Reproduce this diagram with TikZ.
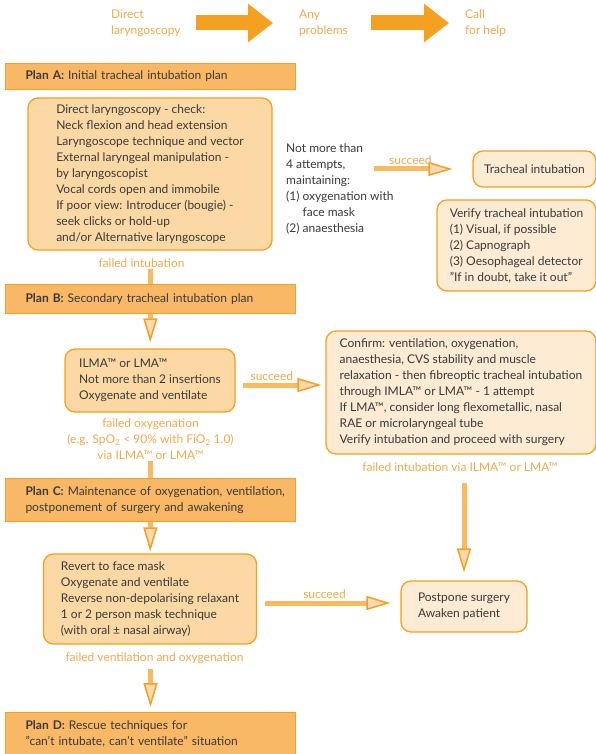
\documentclass[tikz,border=0pt]{standalone}
\usepackage{fontspec}
\setmainfont{Lato}
\usetikzlibrary{arrows.meta,positioning,calc}
\definecolor{orA}{HTML}{F4A020}
\definecolor{orBar}{HTML}{F9B865}
\definecolor{orBox}{HTML}{FCD9A4}
\definecolor{orPale}{HTML}{FDEBD3}
\definecolor{orHead}{HTML}{FDD9B0}
\definecolor{orShaft}{HTML}{FBB960}
\definecolor{orTxt}{HTML}{F6A84A}
\definecolor{ink}{HTML}{3A3A3A}
\tikzset{
  plan/.style  ={draw=orA,fill=orBar,line width=1pt,anchor=north west,text width=250pt,inner xsep=20pt,inner ysep=0pt,align=left,text=ink},
  box/.style   ={draw=orA,fill=orBox,line width=1.3pt,rounded corners=10pt,align=left,text=ink},
  pale/.style  ={box,fill=orPale},
  lbl/.style   ={text=orTxt,align=center,inner sep=1.5pt},
  hdr/.style   ={text=orTxt,align=left,anchor=west,inner sep=0pt},
  shaft/.style ={orShaft,line width=5pt},
  ar/.style    ={shaft,-{Triangle[length=24pt,width=14pt,line width=1.5pt,fill=orHead,color=orA]}},
  bigar/.style ={orA,line width=15pt,-{Triangle[length=25pt,width=37pt]}},
}
\begin{document}
\begin{tikzpicture}[x=1pt,y=-1pt,font=\fontsize{12pt}{16pt}\selectfont]
  \useasboundingbox (0,0) rectangle (596,754);
  \node[hdr] (h1) at (111,23) {Direct\\laryngoscopy};
  \node[hdr] (h2) at (299,23) {Any\\problems};
  \node[hdr] (h3) at (465,23) {Call\\for help};
  \draw[bigar,shorten <=15pt,shorten >=26pt] (h1) -- (h2);
  \draw[bigar,shorten <=23pt,shorten >=16pt] (h2) -- (h3);

  \node[plan,minimum height=26pt] (pA) at (5,63) {\textbf{Plan A:} Initial tracheal intubation plan};
  \node[box,minimum width=244pt,minimum height=152pt] (dlc) at (150,174)
    {Direct laryngoscopy - check:\\Neck flexion and head extension\\Laryngoscope technique and vector\\
     External laryngeal manipulation -\\by laryngoscopist\\Vocal cords open and immobile\\
     If poor view: Introducer (bougie) -\\seek clicks or hold-up\\and/or Alternative laryngoscope};
  \node[text=ink,align=left,anchor=west,inner sep=0pt] (nm) at (286,189)
    {Not more than\\4 attempts,\\maintaining:\\(1) oxygenation with\\\phantom{(1) }face mask\\(2) anaesthesia};
  \node[pale,minimum width=123pt,minimum height=36pt] (ti) at (534.5,169) {Tracheal intubation};
  \node[pale,minimum width=159pt,minimum height=91pt] (vt) at (516.5,245.5)
    {Verify tracheal intubation\\(1) Visual, if possible\\(2) Capnograph\\(3) Oesophageal detector\\"If in doubt, take it out"};
  \coordinate (s1) at (374,169);
  \draw[ar,shorten >=20pt] (s1) -- node[lbl,above,pos=0.37] (sc1) {succeed} (ti);
  \node[lbl] (fi) at (141.5,263) {failed intubation};

  \node[plan,minimum height=29pt] (pB) at (5,284) {\textbf{Plan B:} Secondary tracheal intubation plan};
  \draw[shaft] (fi.south -| pB) -- (pB);
  \node[box,minimum width=170pt,minimum height=63pt] (il) at (150,380.5)
    {ILMA™ or LMA™\\Not more than 2 insertions\\Oxygenate and ventilate};
  \draw[ar,shorten >=6pt] (pB) -- (il);
  \node[pale,minimum width=270pt,minimum height=123pt] (cf) at (461,392.5)
    {Confirm: ventilation, oxygenation,\\anaesthesia, CVS stability and muscle\\relaxation - then fibreoptic tracheal intubation\\
     through IMLA™ or LMA™ - 1 attempt\\If LMA™, consider long flexometallic, nasal\\RAE or microlaryngeal tube\\Verify intubation and proceed with surgery};
  \coordinate (s2) at (243,385);
  \draw[ar,shorten >=4pt] (s2) -- node[lbl,above,pos=0.35] (sc2) {succeed} (s2 -| cf.west);
  \node[lbl] (fo) at (150.5,439)
    {failed oxygenation\\(e.g. SpO\textsubscript{2} < 90\% with FiO\textsubscript{2} 1.0)\\via ILMA™ or LMA™};
  \node[lbl] (fil) at (460,467) {failed intubation via ILMA™ or LMA™};

  \node[plan,minimum height=43pt] (pC) at (5,478)
    {\mbox{\textbf{Plan C:} Maintenance of oxygenation, ventilation,}\\postponement of surgery and awakening};
  \draw[shaft] (fo.south -| pC) -- (pC);
  \node[box,minimum width=213pt,minimum height=90pt] (rv) at (150,599)
    {Revert to face mask\\Oxygenate and ventilate\\Reverse non-depolarising relaxant\\1 or 2 person mask technique\\(with oral ± nasal airway)};
  \draw[ar,shorten >=2pt] (pC) -- (rv);
  \node[pale,minimum width=126pt,minimum height=51pt] (pp) at (464,606.5) {Postpone surgery\\Awaken patient};
  \draw[ar,shorten <=10pt,shorten >=8pt] (fil.south -| pp) -- (pp);
  \coordinate (s3) at (265,603);
  \draw[ar,shorten >=10pt] (s3) -- node[lbl,above,pos=0.44] (sc3) {succeed} (s3 -| pp.west);
  \node[lbl] (fv) at (154.5,658) {failed ventilation and oxygenation};

  \node[plan,minimum height=42pt] (pD) at (5,712)
    {\textbf{Plan D:} Rescue techniques for\\"can't intubate, can't ventilate" situation};
  \draw[ar,shorten <=4pt,shorten >=5pt] (fv.south -| pD) -- (pD);
\end{tikzpicture}
\end{document}
